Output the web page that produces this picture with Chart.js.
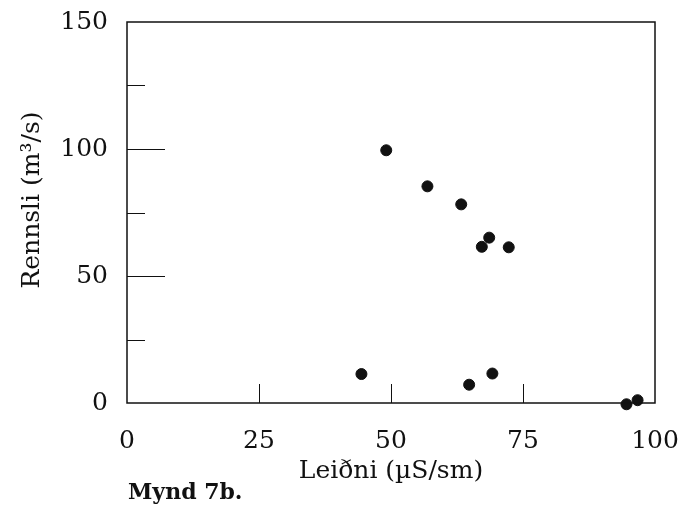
<!DOCTYPE html>
<html>
<head>
<meta charset="utf-8">
<script src="https://cdn.jsdelivr.net/npm/chart.js@4/dist/chart.umd.min.js"></script>
<style>
  html, body { margin:0; padding:0; background:#fff; }
  #wrap { width:699px; height:505px; position:relative; }
</style>
</head>
<body>
<div id="wrap"><canvas id="chart"></canvas></div>
<script>
// values
const leidni  = [49.1, 56.9, 63.3, 68.6, 67.2, 72.3, 44.4, 64.8, 69.2, 94.6, 96.7];
const rennsli = [99.5, 85.3, 78.2, 65.1, 61.5, 61.3, 11.4, 7.2, 11.6, -0.5, 1.1];
const xTicks = [0, 25, 50, 75, 100];
const yTicks = [0, 50, 100, 150];
const yMajorInner = [50, 100];
const yMinorInner = [25, 75, 125];
const xInner = [25, 50, 75];

const serif = "'DejaVu Serif', 'Liberation Serif', serif";

const frame = {
    id: 'frame',
    afterDraw(chart) {
        const { ctx, chartArea: a, scales: { x, y } } = chart;
        ctx.save();
        ctx.strokeStyle = '#111';
        ctx.lineWidth = 1.5;
        ctx.strokeRect(a.left, a.top, a.right - a.left, a.bottom - a.top);
        ctx.lineWidth = 1;
        ctx.beginPath();
        yMajorInner.forEach(v => { const p = Math.round(y.getPixelForValue(v)) + 0.5; ctx.moveTo(a.left, p); ctx.lineTo(a.left + 38, p); });
        yMinorInner.forEach(v => { const p = Math.round(y.getPixelForValue(v)) + 0.5; ctx.moveTo(a.left, p); ctx.lineTo(a.left + 18, p); });
        xInner.forEach(v => { const p = Math.round(x.getPixelForValue(v)) + 0.5; ctx.moveTo(p, a.bottom); ctx.lineTo(p, a.bottom - 19); });
        ctx.stroke();

        ctx.fillStyle = '#111';
        // y axis title, a little above the plot centre as in the original
        ctx.save();
        ctx.translate(32, 200);
        ctx.rotate(-Math.PI / 2);
        ctx.font = "25px " + serif;
        ctx.textAlign = 'center';
        ctx.textBaseline = 'middle';
        ctx.fillText('Rennsli (m³/s)', 0, 0);
        ctx.restore();

        ctx.font = "bold 22px " + serif;
        ctx.textBaseline = 'alphabetic';
        ctx.textAlign = 'left';
        ctx.fillText('Mynd 7b.', 128, 499);
        ctx.restore();
    }
};

new Chart(document.getElementById('chart'), {
    type: 'scatter',
    data: {
        datasets: [{
            data: leidni.map((v, i) => ({ x: v, y: rennsli[i] })),
            backgroundColor: '#111',
            borderColor: '#111',
            pointRadius: 5.5,
            pointHoverRadius: 5.5,
            clip: false
        }]
    },
    options: {
        responsive: true, maintainAspectRatio: false, animation: false,
        layout: { padding: { top: 22, right: 44, left: 0, bottom: 0 } },
        plugins: { legend: { display: false }, tooltip: { enabled: false } },
        scales: {
            x: {
                min: 0, max: 100,
                afterFit: s => { s.height = 102; s.paddingLeft = 0; s.paddingRight = 0; },
                afterBuildTicks: s => { s.ticks = xTicks.map(v => ({ value: v })); },
                grid: { display: false, drawTicks: false },
                border: { display: false },
                ticks: { color: '#111', padding: 23, font: { family: serif, size: 25 } },
                title: { display: true, text: 'Leiðni (µS/sm)', color: '#111', padding: { top: 0, bottom: 19 }, font: { family: serif, size: 25 } }
            },
            y: {
                min: 0, max: 150,
                afterFit: s => { s.width = 127; s.paddingTop = 0; s.paddingBottom = 0; },
                afterBuildTicks: s => { s.ticks = yTicks.map(v => ({ value: v })); },
                grid: { display: false, drawTicks: false },
                border: { display: false },
                ticks: { color: '#111', padding: 19, font: { family: serif, size: 25 } },
                title: { display: false }
            }
        }
    },
    plugins: [frame]
});
</script>
</body>
</html>
